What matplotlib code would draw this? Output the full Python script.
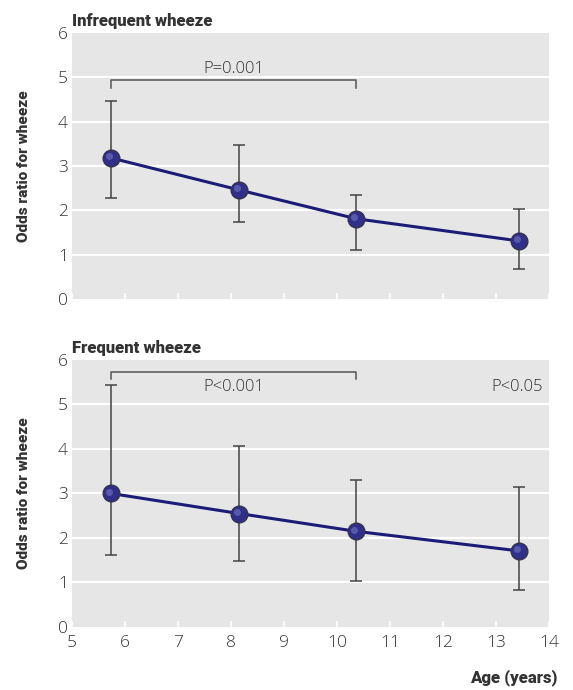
import matplotlib.pyplot as plt
from matplotlib.transforms import offset_copy

plt.rcParams['font.family'] = ['Open Sans', 'DejaVu Sans']
plt.rcParams['font.weight'] = 'light'

# ages at which odds ratios were measured
age = [5.74, 8.15, 10.36, 13.43]

# infrequent wheeze: odds ratio with 95% CI
inf_or = [3.18, 2.46, 1.81, 1.31]
inf_lo = [2.28, 1.74, 1.11, 0.68]
inf_hi = [4.47, 3.48, 2.34, 2.02]

# frequent wheeze
freq_or = [3.00, 2.55, 2.15, 1.71]
freq_lo = [1.62, 1.48, 1.03, 0.84]
freq_hi = [5.44, 4.07, 3.31, 3.15]

x_ticks = [5, 6, 7, 8, 9, 10, 11, 12, 13, 14]
y_ticks = [0, 1, 2, 3, 4, 5, 6]

line_col = '#1c1c78'
dot_col = '#30308a'
err_col = '#444444'
txt_col = '#333333'
head_font = ['Roboto', 'DejaVu Sans']

fig = plt.figure(figsize=(5.73, 6.90), dpi=100)
ax1 = fig.add_axes([0.1257, 0.5667, 0.8325, 0.3855])
ax2 = fig.add_axes([0.1257, 0.0913, 0.8325, 0.3870])


def draw_panel(ax, y, lo, hi, title, show_x):
    ax.set_facecolor('#e6e6e6')
    ax.set_xlim(5, 14)
    ax.set_ylim(0, 6)
    ax.set_xticks(x_ticks)
    ax.set_yticks(y_ticks)
    for s in ax.spines.values():
        s.set_visible(False)
    for g in [1, 2, 3, 4, 5]:
        ax.axhline(g, color='white', lw=1.5, zorder=1)
    ax.tick_params(axis='y', length=0, labelsize=12.5, labelcolor=txt_col, pad=3)
    ax.tick_params(axis='x', direction='in', length=4, width=1.2, color='white',
                   labelsize=12.5, labelcolor=txt_col, pad=6)
    if not show_x:
        ax.tick_params(axis='x', labelbottom=False)
    yerr = [[a - b for a, b in zip(y, lo)], [c - a for a, c in zip(y, hi)]]
    ax.errorbar(age, y, yerr=yerr, fmt='none', ecolor=err_col, elinewidth=1.1,
                capsize=4, capthick=1.1, zorder=2)
    ax.plot(age, y, color=line_col, lw=2.2, zorder=3)
    ax.plot(age, y, 'o', ms=12, mfc=dot_col, mec='#33334a', mew=1.0, zorder=4)
    shine = offset_copy(ax.transData, fig=fig, x=-1.3, y=1.3, units='points')
    ax.plot(age, y, 'o', ms=5, mfc='#7c7cc8', mec='none', alpha=0.55, zorder=5,
            transform=shine)
    ax.text(0, 1.015, title, transform=ax.transAxes, fontsize=12,
            fontweight='black', color='#333333', ha='left', va='bottom',
            family=head_font)
    ax.set_ylabel('Odds ratio for wheeze', fontsize=11, fontweight='black',
                  color='#333333', labelpad=19, family=head_font)


draw_panel(ax1, inf_or, inf_lo, inf_hi, 'Infrequent wheeze', False)
draw_panel(ax2, freq_or, freq_lo, freq_hi, 'Frequent wheeze', True)

# significance brackets
ax1.plot([age[0], age[0], age[2], age[2]], [4.76, 4.94, 4.94, 4.76],
         color='#555555', lw=1.1, zorder=2)
ax1.text(8.05, 5.0, 'P=0.001', fontsize=12, color=txt_col, ha='center', va='bottom')

ax2.plot([age[0], age[0], age[2], age[2]], [5.57, 5.74, 5.74, 5.57],
         color='#555555', lw=1.1, zorder=2)
ax2.text(8.05, 5.4, 'P<0.001', fontsize=12, color=txt_col, ha='center', va='center')
ax2.text(13.88, 5.4, 'P<0.05', fontsize=12, color=txt_col, ha='right', va='center')

fig.text(0.972, 0.0175, 'Age (years)', fontsize=12, fontweight='black',
         color='#333333', ha='right', va='center', family=head_font)

fig.savefig('out.png', dpi=100)
